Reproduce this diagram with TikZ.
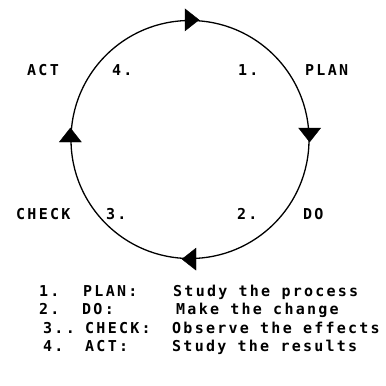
\documentclass[tikz,border=0pt]{standalone}
\usepackage{fontspec}
\newfontfamily\plotfont{DejaVu Sans Mono}[LetterSpace=15]
\begin{document}
\begin{tikzpicture}[x=1pt,y=-1pt,
  lbl/.style={font=\plotfont\bfseries\fontsize{15}{15}\selectfont, inner sep=0pt, anchor=base west},
  tri/.style={fill=black, draw=black, line width=0.4pt, line join=miter}]
\useasboundingbox (0,0) rectangle (386,386);
\node[circle, draw, line width=1.3pt, minimum size=238pt, inner sep=0pt] (cyc) at (190,139.5) {};
% arrowheads (clockwise)
\fill[tri] (cyc.north) ++(9,0) -- ++(-14,-11) -- ++(0,22) -- cycle;
\fill[tri] (cyc.east) ++(0,2.5) -- ++(-11,-14) -- ++(22,0) -- cycle;
\fill[tri] (cyc.south) ++(-8,0) -- ++(14,-11) -- ++(0,22) -- cycle;
\fill[tri] (cyc.west) ++(0,-11.5) -- ++(-11,14) -- ++(22,0) -- cycle;
% circle labels
\node[lbl] (act) at (27,75) {ACT};
\node[lbl] (n4) at (112,75) {4.};
\node[lbl] (n1) at (238,75) {1.};
\node[lbl] (plan) at (305,75) {PLAN};
\node[lbl] (check) at (16,219) {CHECK};
\node[lbl] (n3) at (106,219) {3.};
\node[lbl] (n2) at (237,219) {2.};
\node[lbl] (do) at (303,219) {DO};
% legend
\node[lbl] (l1a) at (39,296) {1.};
\node[lbl] (l1b) at (83,296) {PLAN:};
\node[lbl] (l1c) at (173,296) {Study the process};
\node[lbl] (l2a) at (39,314) {2.};
\node[lbl] (l2b) at (82,314) {DO:};
\node[lbl] (l2c) at (176,314) {Make the change};
\node[lbl] (l3a) at (43,333) {3..};
\node[lbl] (l3b) at (85,333) {CHECK:};
\node[lbl] (l3c) at (172,333) {Observe the effects};
\node[lbl] (l4a) at (43,351) {4.};
\node[lbl] (l4b) at (85,351) {ACT:};
\node[lbl] (l4c) at (172,351) {Study the results};
\end{tikzpicture}
\end{document}
